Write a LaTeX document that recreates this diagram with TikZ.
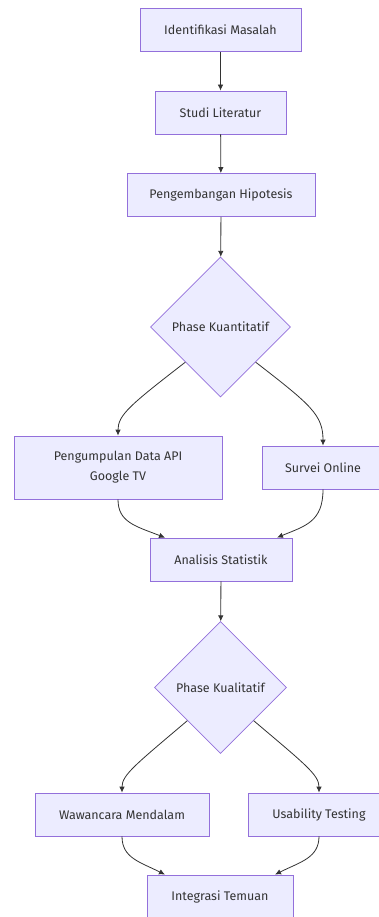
\documentclass[tikz,border=0pt]{standalone}
\usepackage{fontspec}
\setmainfont{Fira Sans}
\usetikzlibrary{shapes.geometric,arrows.meta}
\definecolor{StepColor}{HTML}{ECECFF}
\definecolor{StepBorder}{HTML}{9370DB}
\definecolor{LineColor}{HTML}{333333}
\tikzstyle{research-base}=[rectangle,
                             draw=StepBorder,
                             fill={StepColor},
                             text=LineColor,
                             text centered,
                             inner sep=0pt,
                             line width=0.8pt,
                             font=\fontsize{12.5}{20}\selectfont,
                            ]
\tikzstyle{stage}=[research-base,
                                  minimum height=43pt]
\tikzstyle{phase}=[research-base,
                                  diamond,
                                  aspect=1]
\tikzstyle{flow}=[-{Latex[length=6pt,width=5.5pt]}, draw=LineColor, line width=0.8pt]

\begin{document}
\begin{tikzpicture}[x=1pt,y=-1pt]
\clip (0,0) rectangle (379,917);
\node at (220.5,  30.0) (research_step1) [stage, minimum width=161pt] {Identifikasi Masalah};
\node at (220.5, 112.5) (research_step2) [stage, minimum width=131pt] {Studi Literatur};
\node at (221.0, 195.0) (research_step3) [stage, minimum width=188pt] {Pengembangan Hipotesis};
\node at (220.5, 327.0) (research_quant) [phase, minimum size=140pt] {Phase Kuantitatif};
\node at (118.0, 467.5) (research_api)   [stage, minimum width=208pt, minimum height=63pt, align=center] {Pengumpulan Data API\\Google TV};
\node at (323.0, 467.5) (research_survey) [stage, minimum width=122pt] {Survei Online};
\node at (221.0, 559.5) (research_stat)  [stage, minimum width=142pt] {Analisis Statistik};
\node at (220.5, 687.5) (research_qual)  [phase, minimum size=132pt] {Phase Kualitatif};
\node at (122.0, 814.5) (research_interview) [stage, minimum width=174pt] {Wawancara Mendalam};
\node at (319.0, 814.5) (research_usability) [stage, minimum width=142pt] {Usability Testing};
\node at (220.0, 897.0) (research_result) [stage, minimum width=146pt, minimum height=44pt] {Integrasi Temuan};

\draw[flow] (research_step1) -- (research_step2);
\draw[flow] (research_step2) -- (research_step3);
\draw[flow] (research_step3) -- (research_quant);
\draw[flow] (research_quant.south west) .. controls (130,405) and (118,415) .. (research_api.north);
\draw[flow] (research_quant.south east) .. controls (311,405) and (323,415) .. (research_survey.north);
\draw[flow] (research_api.south) .. controls (118,522) and (135,526) .. ([xshift=-56pt]research_stat.north);
\draw[flow] (research_survey.south) .. controls (323,522) and (305,526) .. ([xshift=56pt]research_stat.north);
\draw[flow] (research_stat) -- (research_qual);
\draw[flow] (research_qual.south west) .. controls (135,765) and (122,775) .. (research_interview.north);
\draw[flow] (research_qual.south east) .. controls (306,765) and (319,775) .. (research_usability.north);
\draw[flow] (research_interview.south) .. controls (122,858) and (140,862) .. ([xshift=-55pt]research_result.north);
\draw[flow] (research_usability.south) .. controls (319,858) and (300,862) .. ([xshift=55pt]research_result.north);
\end{tikzpicture}
\end{document}
